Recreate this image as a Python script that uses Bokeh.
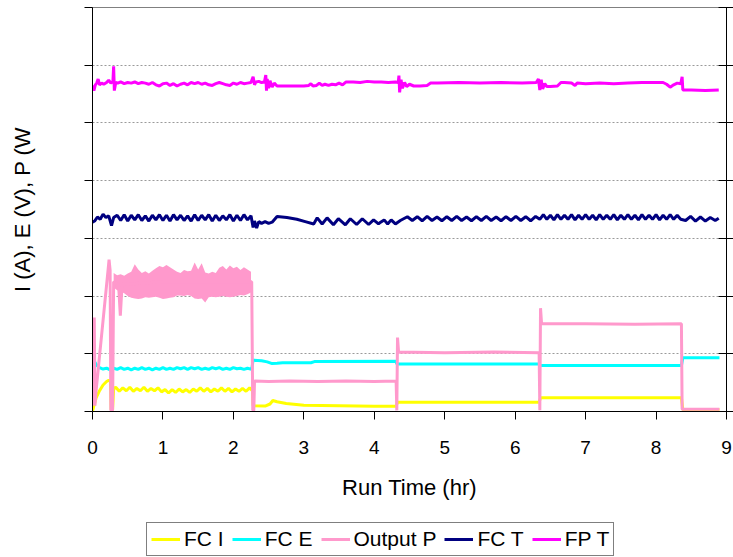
from bokeh.plotting import figure
from bokeh.layouts import column
from bokeh.models import Range1d, LinearAxis, FixedTicker, Legend, LegendItem, CustomJSTickFormatter
from bokeh.embed import file_html
from bokeh.resources import INLINE

# ---------------- data ----------------
x_ticks = [0, 1, 2, 3, 4, 5, 6, 7, 8, 9]
y_ticks = [0, 10, 20, 30, 40, 50, 60, 70]

series_names = ["FC I", "FC E", "Output P", "FC T", "FP T"]

fc_i = [(0.00, 0.0), (0.02, 1.0), (0.05, 2.3), (0.10, 3.6), (0.15, 4.6), (0.20, 5.2), (0.23, 5.4),
        (0.255, 5.3), (0.265, 0.3), (0.285, 0.3), (0.30, 3.9),
        (0.33, 4.2), (0.38, 3.5), (0.43, 4.1), (0.48, 3.6), (0.53, 4.2), (0.58, 3.5), (0.63, 4.0),
        (0.68, 3.6), (0.73, 4.2), (0.78, 3.5), (0.83, 4.0), (0.88, 3.6), (0.93, 4.1), (0.98, 3.4),
        (1.03, 3.8), (1.08, 3.2), (1.13, 3.8), (1.18, 3.3), (1.23, 3.9), (1.28, 3.4), (1.33, 3.8),
        (1.38, 3.3), (1.43, 3.9), (1.48, 3.5), (1.53, 4.1), (1.58, 3.5), (1.63, 4.0), (1.68, 3.4),
        (1.73, 3.9), (1.78, 3.5), (1.83, 4.1), (1.88, 3.5), (1.93, 4.0), (1.98, 3.4), (2.03, 3.9),
        (2.08, 3.5), (2.13, 4.0), (2.18, 3.5), (2.23, 4.1), (2.27, 3.6),
        (2.28, 1.0), (2.45, 0.95), (2.52, 1.3), (2.56, 1.9), (2.62, 1.7), (2.75, 1.4), (3.00, 1.1),
        (3.50, 1.0), (4.00, 0.9), (4.31, 0.9), (4.33, 1.6), (6.34, 1.6), (6.36, 2.4), (8.36, 2.4),
        (8.38, 0.3), (8.90, 0.3)]

fc_e = [(0.00, 9.2), (0.03, 8.6), (0.06, 8.0), (0.10, 7.6), (0.15, 7.35), (0.20, 7.5), (0.25, 7.2),
        (0.30, 7.5), (0.35, 7.3), (0.40, 7.6), (0.45, 7.3), (0.50, 7.5), (0.55, 7.2), (0.60, 7.5),
        (0.65, 7.3), (0.70, 7.6), (0.75, 7.3), (0.80, 7.5), (0.85, 7.2), (0.90, 7.5), (0.95, 7.3),
        (1.00, 7.6), (1.05, 7.3), (1.10, 7.5), (1.15, 7.3), (1.20, 7.6), (1.25, 7.4), (1.30, 7.6),
        (1.35, 7.3), (1.40, 7.6), (1.45, 7.4), (1.50, 7.6), (1.55, 7.3), (1.60, 7.5), (1.65, 7.3),
        (1.70, 7.6), (1.75, 7.4), (1.80, 7.6), (1.85, 7.3), (1.90, 7.5), (1.95, 7.3), (2.00, 7.6),
        (2.05, 7.4), (2.10, 7.5), (2.15, 7.3), (2.20, 7.5), (2.26, 7.3),
        (2.28, 8.9), (2.40, 8.8), (2.48, 8.6), (2.55, 8.3), (2.62, 8.35), (2.70, 8.45), (3.10, 8.45),
        (3.15, 8.65), (4.31, 8.7), (4.32, 8.25), (6.34, 8.25), (6.36, 7.95), (8.36, 7.95),
        (8.38, 9.3), (8.90, 9.3)]

out_p = [(0.00, 4.2), (0.015, 1.0), (0.025, 16.3), (0.035, 1.0), (0.05, 3.5), (0.225, 25.0),
         (0.235, 26.3), (0.25, 24.5), (0.26, 0.2), (0.285, 0.2), (0.30, 22.5), (0.37, 22.0),
         (0.395, 16.6), (0.42, 22.0), (1.00, 22.5), (2.26, 22.5), (2.275, 0.2), (2.29, 0.2),
         (2.30, 5.3), (2.50, 5.2), (2.80, 5.3), (3.20, 5.2), (3.60, 5.3), (4.00, 5.2), (4.31, 5.3),
         (4.32, 0.2), (4.33, 12.8), (4.345, 10.3), (5.00, 10.2), (5.70, 10.3), (6.34, 10.2),
         (6.35, 0.2), (6.36, 17.9), (6.375, 15.2), (7.00, 15.2), (7.70, 15.1), (8.36, 15.2),
         (8.37, 0.4), (8.90, 0.4)]

# noisy band of Output P between 0.3 h and 2.25 h: (time, upper edge, lower edge)
out_p_band = [(0.30, 24.0, 21.5), (0.35, 23.6, 21.0), (0.40, 23.8, 20.8), (0.45, 23.5, 20.5),
              (0.50, 23.9, 20.0), (0.55, 24.2, 19.7), (0.60, 25.5, 19.6), (0.65, 24.6, 19.5),
              (0.70, 24.0, 19.6), (0.75, 24.3, 19.8), (0.80, 23.9, 19.7), (0.85, 24.4, 19.8),
              (0.90, 24.8, 19.9), (0.95, 25.2, 19.7), (1.00, 25.0, 19.5), (1.05, 25.4, 19.6),
              (1.10, 25.0, 19.7), (1.15, 24.6, 19.8), (1.20, 24.2, 20.1), (1.25, 24.0, 20.1),
              (1.30, 24.5, 20.0), (1.35, 24.3, 20.2), (1.40, 24.4, 20.0), (1.45, 25.8, 19.6),
              (1.50, 24.6, 19.5), (1.55, 25.7, 19.6), (1.60, 24.1, 18.9), (1.65, 23.9, 19.8),
              (1.70, 24.2, 19.9), (1.75, 24.0, 19.8), (1.80, 24.9, 19.9), (1.85, 25.2, 20.0),
              (1.90, 24.6, 19.9), (1.95, 25.3, 19.8), (2.00, 24.8, 19.9), (2.05, 25.1, 20.0),
              (2.10, 24.5, 20.2), (2.15, 25.0, 20.1), (2.20, 24.6, 20.3), (2.25, 24.2, 20.6)]

fc_t = [(0.00, 32.8), (0.03, 33.0), (0.07, 33.7), (0.11, 33.3), (0.15, 34.2), (0.19, 33.6),
        (0.23, 33.9), (0.27, 32.2), (0.30, 33.6),
        (0.35, 34.0), (0.40, 33.1), (0.45, 34.1), (0.50, 33.0), (0.55, 34.0), (0.60, 33.2),
        (0.65, 34.1), (0.70, 33.1), (0.75, 33.9), (0.80, 33.0), (0.85, 34.0), (0.90, 33.2),
        (0.95, 34.1), (1.00, 33.1), (1.05, 34.0), (1.10, 33.0), (1.15, 34.1), (1.20, 33.2),
        (1.25, 34.0), (1.30, 33.1), (1.35, 33.9), (1.40, 33.0), (1.45, 34.1), (1.50, 33.1),
        (1.55, 34.0), (1.60, 33.2), (1.65, 34.1), (1.70, 33.0), (1.75, 34.0), (1.80, 33.1),
        (1.85, 33.9), (1.90, 33.2), (1.95, 34.1), (2.00, 33.0), (2.05, 34.0), (2.10, 33.1),
        (2.15, 34.1), (2.20, 33.2), (2.25, 33.9),
        (2.28, 31.9), (2.30, 33.0), (2.33, 31.8), (2.36, 32.9), (2.40, 32.6), (2.45, 32.9),
        (2.50, 32.6), (2.55, 32.8), (2.62, 33.8), (2.76, 33.6), (2.90, 33.3), (3.02, 32.9),
        (3.14, 32.5),
        (3.19, 33.55), (3.26, 32.5), (3.33, 33.55), (3.42, 32.35), (3.49, 33.4), (3.59, 32.35),
        (3.66, 33.4), (3.75, 32.4), (3.83, 33.4), (3.92, 32.4), (3.99, 33.2), (4.06, 32.5),
        (4.09, 32.8), (4.14, 33.2), (4.19, 32.5), (4.24, 33.2), (4.30, 32.5), (4.37, 33.1),
        (4.47, 33.75), (4.54, 33.1), (4.61, 33.75), (4.68, 33.05), (4.75, 33.8), (4.82, 33.1),
        (4.89, 33.7), (4.96, 33.05), (5.03, 33.75), (5.10, 33.1), (5.17, 33.8), (5.24, 33.1),
        (5.31, 33.7), (5.38, 33.05), (5.45, 33.75), (5.52, 33.1), (5.59, 33.8), (5.66, 33.1),
        (5.73, 33.7), (5.80, 33.05), (5.87, 33.75), (5.94, 33.1), (6.01, 33.8), (6.08, 33.1),
        (6.15, 33.75), (6.22, 33.05), (6.29, 33.8),
        (6.35, 33.3), (6.40, 34.1), (6.45, 33.3), (6.50, 34.0), (6.55, 33.2), (6.60, 34.1),
        (6.65, 33.3), (6.70, 34.0), (6.75, 33.3), (6.80, 34.1), (6.85, 33.2), (6.90, 34.0),
        (6.95, 33.3), (7.00, 34.1), (7.05, 33.3), (7.10, 34.0), (7.15, 33.2), (7.20, 34.1),
        (7.25, 33.3), (7.30, 34.0), (7.35, 33.3), (7.40, 34.1), (7.45, 33.2), (7.50, 34.0),
        (7.55, 33.3), (7.60, 34.1), (7.65, 33.3), (7.70, 34.0), (7.75, 33.2), (7.80, 34.1),
        (7.85, 33.3), (7.90, 34.0), (7.95, 33.3), (8.00, 34.1), (8.05, 33.2), (8.10, 34.0),
        (8.15, 33.3), (8.20, 34.1), (8.25, 33.3), (8.30, 34.0), (8.35, 33.3),
        (8.42, 33.1), (8.49, 33.8), (8.56, 33.0), (8.63, 33.7), (8.70, 33.0), (8.77, 33.6),
        (8.84, 33.1), (8.89, 33.5)]

fp_t = [(0.00, 56.5), (0.02, 55.6), (0.04, 56.6), (0.06, 56.9), (0.08, 57.6), (0.10, 56.6),
        (0.13, 56.9), (0.16, 56.7), (0.20, 57.0), (0.23, 57.4), (0.26, 56.9), (0.29, 57.2),
        (0.30, 59.8), (0.31, 55.6), (0.33, 57.0), (0.36, 56.9), (0.40, 57.1), (0.45, 56.8),
        (0.50, 57.0), (0.55, 56.9), (0.60, 57.1), (0.65, 56.8), (0.70, 57.0), (0.75, 56.9),
        (0.80, 56.7), (0.85, 57.0), (0.90, 56.6), (0.95, 56.4), (1.00, 56.8), (1.05, 56.9),
        (1.10, 56.5), (1.15, 56.8), (1.20, 56.4), (1.25, 56.7), (1.30, 56.9), (1.35, 56.6),
        (1.40, 57.0), (1.45, 56.8), (1.50, 57.0), (1.55, 56.7), (1.60, 56.9), (1.65, 56.6),
        (1.70, 56.5), (1.75, 56.8), (1.80, 57.0), (1.85, 56.8), (1.90, 56.6), (1.95, 56.5),
        (2.00, 56.9), (2.05, 56.7), (2.10, 57.0), (2.15, 56.8), (2.20, 56.9), (2.25, 57.0),
        (2.28, 58.0), (2.30, 56.6), (2.32, 57.1), (2.36, 57.2), (2.40, 57.0), (2.44, 57.1),
        (2.46, 58.3), (2.47, 55.6), (2.48, 57.6), (2.50, 56.0), (2.52, 57.3), (2.55, 56.2),
        (2.58, 56.9), (2.62, 56.4), (2.70, 56.4), (2.80, 56.4), (2.90, 56.4), (3.00, 56.4),
        (3.07, 56.5), (3.10, 56.8), (3.13, 56.4), (3.18, 56.5), (3.22, 56.9), (3.26, 56.5),
        (3.30, 56.7), (3.35, 56.5), (3.40, 56.7), (3.45, 56.6), (3.50, 56.9), (3.55, 56.6),
        (3.60, 57.1), (3.70, 57.1), (3.80, 57.0), (3.90, 57.2), (4.00, 57.1), (4.10, 57.1),
        (4.20, 57.0), (4.30, 57.1), (4.34, 57.0), (4.35, 58.2), (4.36, 55.3), (4.38, 57.5),
        (4.40, 56.0), (4.43, 57.0), (4.46, 56.3), (4.50, 56.7), (4.56, 56.4), (4.65, 56.4),
        (4.75, 56.5), (4.80, 56.9), (4.90, 56.9), (5.20, 57.0), (5.50, 56.9), (5.80, 57.0),
        (6.10, 56.9), (6.30, 57.0), (6.33, 57.6), (6.35, 55.7), (6.37, 57.5), (6.39, 55.9),
        (6.42, 56.8), (6.45, 56.3), (6.50, 56.3), (6.60, 56.4), (6.65, 57.0), (6.70, 57.0),
        (6.80, 56.9), (6.85, 56.5), (6.88, 56.9), (7.00, 56.8), (7.20, 56.9), (7.40, 56.8),
        (7.60, 56.9), (7.80, 57.0), (8.00, 57.0), (8.10, 57.0), (8.15, 56.7), (8.20, 56.2),
        (8.25, 56.6), (8.30, 56.9), (8.35, 56.8), (8.37, 58.0), (8.38, 55.7), (8.50, 55.7),
        (8.70, 55.6), (8.89, 55.7)]

colors = ["#FFFF00", "#00FFFF", "#FF99CC", "#000080", "#FF00FF"]

# ---------------- main figure ----------------
FONT = "Liberation Sans"

p = figure(width=733, height=515, x_range=Range1d(0, 9), y_range=Range1d(0, 70),
           output_backend="svg", toolbar_location=None,
           min_border_left=92, min_border_right=7, min_border_top=7, min_border_bottom=104,
           background_fill_color="white", border_fill_color="white")

p.outline_line_color = "#808080"
p.outline_line_width = 1
p.xgrid.visible = False
p.ygrid.ticker = FixedTicker(ticks=y_ticks)
p.ygrid.grid_line_color = "#9a9a9a"
p.ygrid.grid_line_dash = "2 2"
p.ygrid.grid_line_width = 1

# x axis
xa = p.xaxis[0]
xa.ticker = FixedTicker(ticks=x_ticks)
xa.axis_line_color = "black"
xa.major_tick_line_color = "black"
xa.major_tick_out = 8
xa.major_tick_in = 0
xa.minor_tick_line_color = None
xa.major_label_text_font = FONT
xa.major_label_text_font_size = "19px"
xa.major_label_text_color = "black"
xa.major_label_standoff = 21
xa.axis_label = "Run Time (hr)"
xa.axis_label_text_font = FONT
xa.axis_label_text_font_size = "22px"
xa.axis_label_text_font_style = "normal"
xa.axis_label_text_color = "black"
xa.axis_label_standoff = 18

# left y axis (ticks without numbers)
ya = p.yaxis[0]
ya.ticker = FixedTicker(ticks=y_ticks)
ya.formatter = CustomJSTickFormatter(code="return '';")
ya.axis_line_color = "black"
ya.major_tick_line_color = "black"
ya.major_tick_out = 8
ya.major_tick_in = 0
ya.minor_tick_line_color = None
ya.major_label_standoff = 0
ya.axis_label = "I (A), E (V), P (W"
ya.axis_label_text_font = FONT
ya.axis_label_text_font_size = "22px"
ya.axis_label_text_font_style = "normal"
ya.axis_label_text_color = "black"
ya.axis_label_standoff = 50

# right y axis (ticks only)
ra = LinearAxis(ticker=FixedTicker(ticks=y_ticks), formatter=CustomJSTickFormatter(code="return '';"))
ra.axis_line_color = "black"
ra.major_tick_line_color = "black"
ra.major_tick_in = 8
ra.major_tick_out = 7
ra.minor_tick_line_color = None
ra.major_label_standoff = 0
p.add_layout(ra, "right")

# ---------------- series ----------------
def split(pairs):
    return [a for a, _ in pairs], [b for _, b in pairs]

all_series = [fc_i, fc_e, out_p, fc_t, fp_t]

for k, s in enumerate(all_series):
    if k == 2:
        bt = [a for a, _, _ in out_p_band]
        bh = [b for _, b, _ in out_p_band]
        bl = [c for _, _, c in out_p_band]
        p.varea(x=bt, y1=bl, y2=bh, fill_color=colors[2])
    t, v = split(s)
    p.line(t, v, line_color=colors[k], line_width=3)

# ---------------- legend strip (same series, drawn outside its visible range) ----------------
q = figure(width=733, height=42, x_range=Range1d(0, 9), y_range=Range1d(1000, 1001),
           output_backend="svg", toolbar_location=None,
           x_axis_type=None, y_axis_type=None,
           min_border_left=0, min_border_right=0, min_border_top=0, min_border_bottom=0,
           background_fill_color="white", border_fill_color="white")
q.outline_line_color = None
q.grid.visible = False
leg_renderers = []
for k, s in enumerate(all_series):
    t, v = split(s)
    leg_renderers.append(q.line(t, v, line_color=colors[k], line_width=3))

legend = Legend(items=[LegendItem(label=n, renderers=[r]) for n, r in zip(series_names, leg_renderers)],
                orientation="horizontal", location=(54, 1), margin=0,
                padding=4, spacing=8, label_standoff=4, glyph_width=29, glyph_height=20,
                label_text_font=FONT, label_text_font_size="21px", label_text_color="black",
                border_line_color="black", border_line_width=1,
                background_fill_color="white", background_fill_alpha=1)
q.add_layout(legend, "center")

layout = column(p, q, spacing=0)
open("out.html", "w").write(file_html(layout, INLINE))
